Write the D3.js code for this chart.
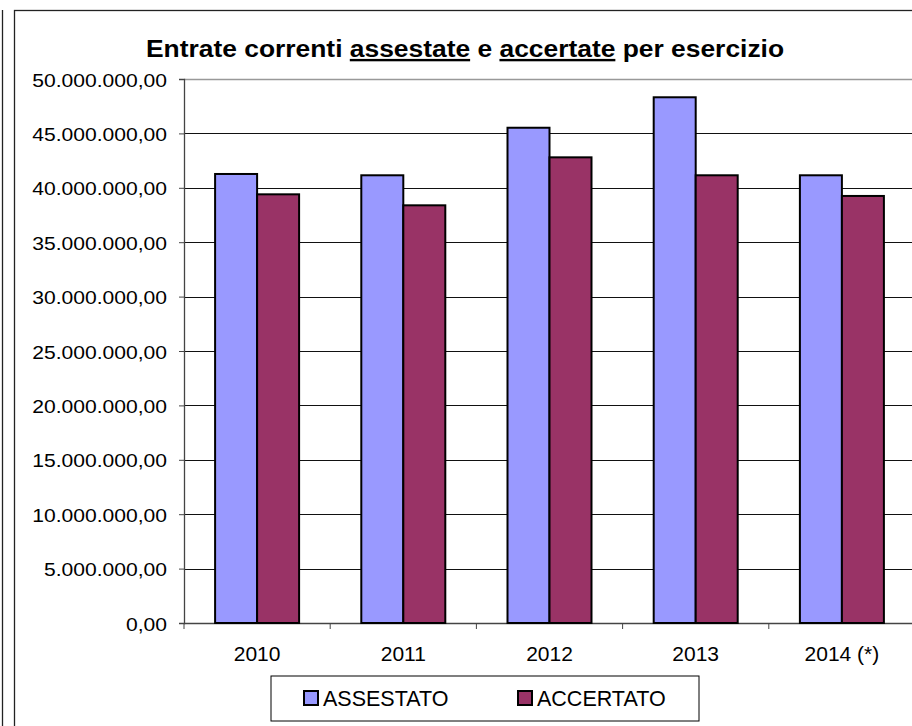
<!DOCTYPE html>
<html>
<head>
<meta charset="utf-8">
<script src="https://cdn.jsdelivr.net/npm/d3@7"></script>
<style>
  body { margin: 0; background: #fff; }
  svg { display: block; }
  text { font-family: "Liberation Sans", Arial, sans-serif; fill: #000; }
</style>
</head>
<body>
<svg width="912" height="726"></svg>
<script>
// data
const categories = ['2010', '2011', '2012', '2013', '2014 (*)'];
const seriesNames = ['ASSESTATO', 'ACCERTATO'];
const assestato = [41270000, 41150000, 45520000, 48320000, 41150000];
const accertato = [39400000, 38390000, 42800000, 41150000, 39250000];
const yTickValues = [0, 5000000, 10000000, 15000000, 20000000, 25000000,
                     30000000, 35000000, 40000000, 45000000, 50000000];
const colors = ['#9999ff', '#993366'];

(function () {
  const svg = d3.select('svg');
  const width = +svg.attr('width');
  const height = +svg.attr('height');

  const plotLeft = 184, plotTop = 79, plotBottom = 623, plotRight = 915;

  const it = d3.formatLocale({ decimal: ',', thousands: '.', grouping: [3], currency: ['€', ''] });
  const fmt = it.format(',.2f');

  const x0 = d3.scaleBand().domain(categories).range([plotLeft, plotRight]);
  const barW = 42;
  const gap = (x0.bandwidth() - 2 * barW) / 2;
  const x1 = d3.scaleBand().domain(seriesNames).range([gap, x0.bandwidth() - gap]);
  const y = d3.scaleLinear().domain([0, 50000000]).range([plotBottom, plotTop]);

  // outer frame
  svg.append('line').attr('x1', 2.5).attr('x2', 2.5).attr('y1', 10).attr('y2', height)
    .attr('stroke', '#222').attr('stroke-width', 1.3);
  svg.append('rect').attr('x', 14.5).attr('y', 10.5).attr('width', 1000).attr('height', 1000)
    .attr('fill', 'none').attr('stroke', '#222').attr('stroke-width', 1.3);

  // title
  const title = svg.append('text')
    .attr('transform', 'translate(465,57) scale(1.1,1)')
    .attr('text-anchor', 'middle')
    .style('font-size', '24px').style('font-weight', 'bold');
  title.append('tspan').text('Entrate correnti ');
  title.append('tspan').style('text-decoration', 'underline').text('assestate');
  title.append('tspan').text(' e ');
  title.append('tspan').style('text-decoration', 'underline').text('accertate');
  title.append('tspan').text(' per esercizio');

  // gridlines
  svg.append('g').selectAll('line').data(yTickValues).enter().append('line')
    .attr('x1', plotLeft).attr('x2', width)
    .attr('y1', d => Math.round(y(d)) + 0.5).attr('y2', d => Math.round(y(d)) + 0.5)
    .attr('stroke', d => d === 50000000 ? '#999' : '#111')
    .attr('stroke-width', d => d === 50000000 ? 1.5 : 1);

  // y axis
  const yAxis = svg.append('g').attr('transform', `translate(${plotLeft},0)`)
    .call(d3.axisLeft(y).tickValues(yTickValues).tickSize(5).tickPadding(0).tickFormat(''));
  yAxis.select('.domain').attr('stroke', '#444').attr('stroke-width', 1.3);
  yAxis.selectAll('.tick line').attr('stroke', '#444');
  yAxis.selectAll('.tick').append('text')
    .attr('transform', 'translate(-17,7) scale(1.14,1)')
    .attr('text-anchor', 'end')
    .style('font-size', '18.5px')
    .text(d => fmt(d));

  // x axis
  const boundaries = categories.map(c => x0(c)).concat([plotRight]);
  const xAxis = svg.append('g').attr('transform', `translate(0,${plotBottom})`);
  xAxis.append('line').attr('x1', plotLeft).attr('x2', width).attr('y1', 0.5).attr('y2', 0.5)
    .attr('stroke', '#444').attr('stroke-width', 1.3);
  xAxis.selectAll('.tk').data(boundaries).enter().append('line')
    .attr('class', 'tk')
    .attr('x1', d => d).attr('x2', d => d).attr('y1', 0).attr('y2', 6)
    .attr('stroke', '#444');
  xAxis.selectAll('.lbl').data(categories).enter().append('text')
    .attr('class', 'lbl')
    .attr('x', d => x0(d) + x0.bandwidth() / 2)
    .attr('y', 38)
    .attr('text-anchor', 'middle')
    .style('font-size', '21px')
    .text(d => d);

  // bars
  const rows = categories.map((c, i) => ({ cat: c, values: [assestato[i], accertato[i]] }));
  const groups = svg.append('g').selectAll('g').data(rows).enter().append('g')
    .attr('transform', d => `translate(${x0(d.cat)},0)`);
  groups.selectAll('rect').data(d => d.values.map((v, j) => ({ key: seriesNames[j], v, j })))
    .enter().append('rect')
    .attr('x', d => x1(d.key))
    .attr('y', d => y(d.v))
    .attr('width', x1.bandwidth())
    .attr('height', d => plotBottom - y(d.v))
    .attr('fill', d => colors[d.j])
    .attr('stroke', '#000')
    .attr('stroke-width', 2);

  // legend
  const legend = svg.append('g');
  legend.append('rect').attr('x', 271).attr('y', 676).attr('width', 428).attr('height', 45)
    .attr('fill', '#fff').attr('stroke', '#000').attr('stroke-width', 1);
  const legendX = [304, 518];
  const items = legend.selectAll('.item').data(seriesNames).enter().append('g')
    .attr('class', 'item')
    .attr('transform', (d, i) => `translate(${legendX[i]},691)`);
  items.append('rect').attr('width', 14).attr('height', 14)
    .attr('fill', (d, i) => colors[i]).attr('stroke', '#000').attr('stroke-width', 2);
  items.append('text').attr('x', 19).attr('y', 15)
    .style('font-size', '21.5px')
    .text(d => d);
})();
</script>
</body>
</html>
